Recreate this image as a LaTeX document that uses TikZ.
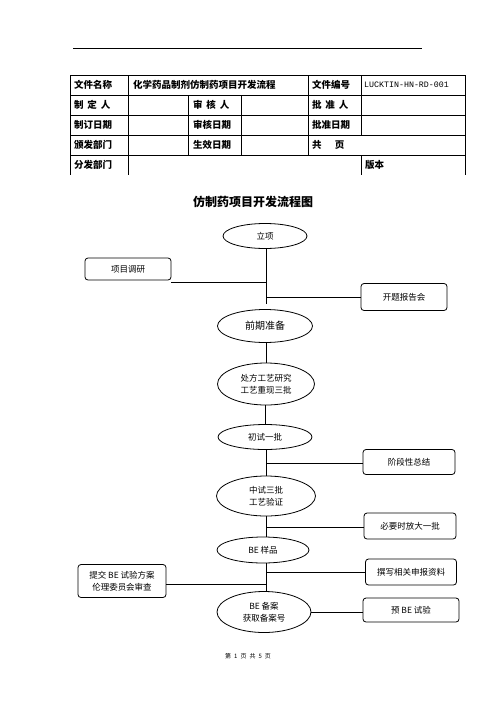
\documentclass[tikz,border=0pt]{standalone}
\usepackage{fontspec}
\setmainfont{Noto Sans CJK SC}
\newfontfamily\monofnt{Liberation Mono}
\usetikzlibrary{shapes.geometric}
\tikzset{
  ell/.style={draw, line width=0.8pt, ellipse, inner sep=0pt, align=center, font=\fontsize{8.5}{12}\selectfont},
  rbox/.style={draw, line width=0.8pt, rounded corners=3pt, inner sep=0pt, align=center, font=\fontsize{8.5}{12}\selectfont},
  conn/.style={line width=0.8pt},
  tline/.style={line width=0.6pt},
  cell/.style={anchor=west, inner sep=0pt, font=\bfseries\fontsize{9.5}{11}\selectfont},
}
\begin{document}
\begin{tikzpicture}[x=1pt,y=-1pt]
\useasboundingbox (0,0) rectangle (496,702);
% header rule
\draw[tline] (73,48) -- (422,48);
% table
\draw[tline] (70,75) -- (465,75);
\foreach \yy in {95,115,135,155} \draw[tline] (70,\yy) -- (465,\yy);
\draw[tline] (70,75) -- (70,175);
\draw[tline] (465,75) -- (465,175);
\draw[tline] (128,75) -- (128,175);
\draw[tline] (308,75) -- (308,155);
\draw[tline] (361,75) -- (361,135);
\draw[tline] (361,155) -- (361,175);
\draw[tline] (188,95) -- (188,155);
\draw[tline] (241,95) -- (241,155);
% table texts
\node[cell] (c11) at (74,85) {文件名称};
\node[cell] (c12) at (133,85) {化学药品制剂仿制药项目开发流程};
\node[cell] (c13) at (312,85) {文件编号};
\node[cell, font=\monofnt\fontsize{8.3}{10}\selectfont] (c14) at (364,85) {LUCKTIN-HN-RD-001};
\node[cell] (c21) at (74,105) {制\hspace{0.4em}定\hspace{0.4em}人};
\node[cell] (c22) at (193,105) {审\hspace{0.4em}核\hspace{0.4em}人};
\node[cell] (c23) at (312,105) {批\hspace{0.4em}准\hspace{0.4em}人};
\node[cell] (c31) at (74,125) {制订日期};
\node[cell] (c32) at (193,125) {审核日期};
\node[cell] (c33) at (312,125) {批准日期};
\node[cell] (c41) at (74,145) {颁发部门};
\node[cell] (c42) at (193,145) {生效日期};
\node[cell] (c43) at (312,145) {共\hspace{1.4em}页};
\node[cell] (c51) at (74,165) {分发部门};
\node[cell] (c52) at (365,165) {版本};
% title
\node[font=\bfseries\fontsize{12}{14}\selectfont] (title) at (253,202) {仿制药项目开发流程图};
% flow nodes
\node[ell, minimum width=84pt, minimum height=25pt] (lx) at (265,236) {立项};
\node[rbox, minimum width=86pt, minimum height=22pt] (dy) at (128,269) {项目调研};
\node[rbox, minimum width=86pt, minimum height=27pt] (kt) at (404,297) {开题报告会};
\node[ell, minimum width=95pt, minimum height=33pt, font=\fontsize{10}{12}\selectfont] (qq) at (265,326) {前期准备};
\node[ell, minimum width=97pt, minimum height=42pt] (cf) at (266,384) {处方工艺研究\\工艺重现三批};
\node[ell, minimum width=94pt, minimum height=25pt] (cs) at (265,437) {初试一批};
\node[rbox, minimum width=92pt, minimum height=25pt] (jd) at (409,462) {阶段性总结};
\node[ell, minimum width=99pt, minimum height=40pt] (zs) at (266,496) {中试三批\\工艺验证};
\node[rbox, minimum width=92pt, minimum height=26pt] (by) at (410,526) {必要时放大一批};
\node[ell, minimum width=92pt, minimum height=26pt] (be) at (263,550) {BE 样品};
\node[rbox, minimum width=91pt, minimum height=26pt] (zx) at (411,572) {撰写相关申报资料};
\node[rbox, minimum width=88pt, minimum height=33pt] (tj) at (122,581) {提交 BE 试验方案\\伦理委员会审查};
\node[ell, minimum width=94pt, minimum height=41pt] (ba) at (264,612) {BE 备案\\获取备案号};
\node[rbox, minimum width=96pt, minimum height=24pt] (yb) at (411,610) {预 BE 试验};
% footer
\node[font=\fontsize{6}{8}\selectfont] (foot) at (248,656) {第\hspace{0.5em}1\hspace{0.5em}页\hspace{0.5em}共\hspace{0.5em}5\hspace{0.5em}页};
% junction coordinates
\coordinate (j1) at (266,282);
\coordinate (j2) at (266,297);
\coordinate (t1) at (266,304);
\coordinate (j3) at (266,463);
\coordinate (t3) at (266,476);
\coordinate (j4) at (266,527);
\coordinate (j5) at (266,572);
\coordinate (j6) at (266,584);
% connectors
\draw[conn] (lx.south -| j1) -- (t1);
\draw[conn] (dy.east |- j1) -- (j1);
\draw[conn] (j2) -- (kt.west |- j2);
\draw[conn] (qq.south -| cf.north) -- (cf.north);
\draw[conn] (cf.south -| cs.north) -- (cs.north);
\draw[conn] (cs.south -| t3) -- (t3);
\draw[conn] (j3) -- (jd.west |- j3);
\draw[conn] (zs.south -| j4) -- (be.north -| j4);
\draw[conn] (j4) -- (by.west |- j4);
\draw[conn] (be.south -| j5) -- (ba.north -| j5);
\draw[conn] (j5) -- (zx.west |- j5);
\draw[conn] (tj.east |- j6) -- (j6);
\draw[conn] (ba.east) -- (yb.west |- ba.east);
\end{tikzpicture}
\end{document}
